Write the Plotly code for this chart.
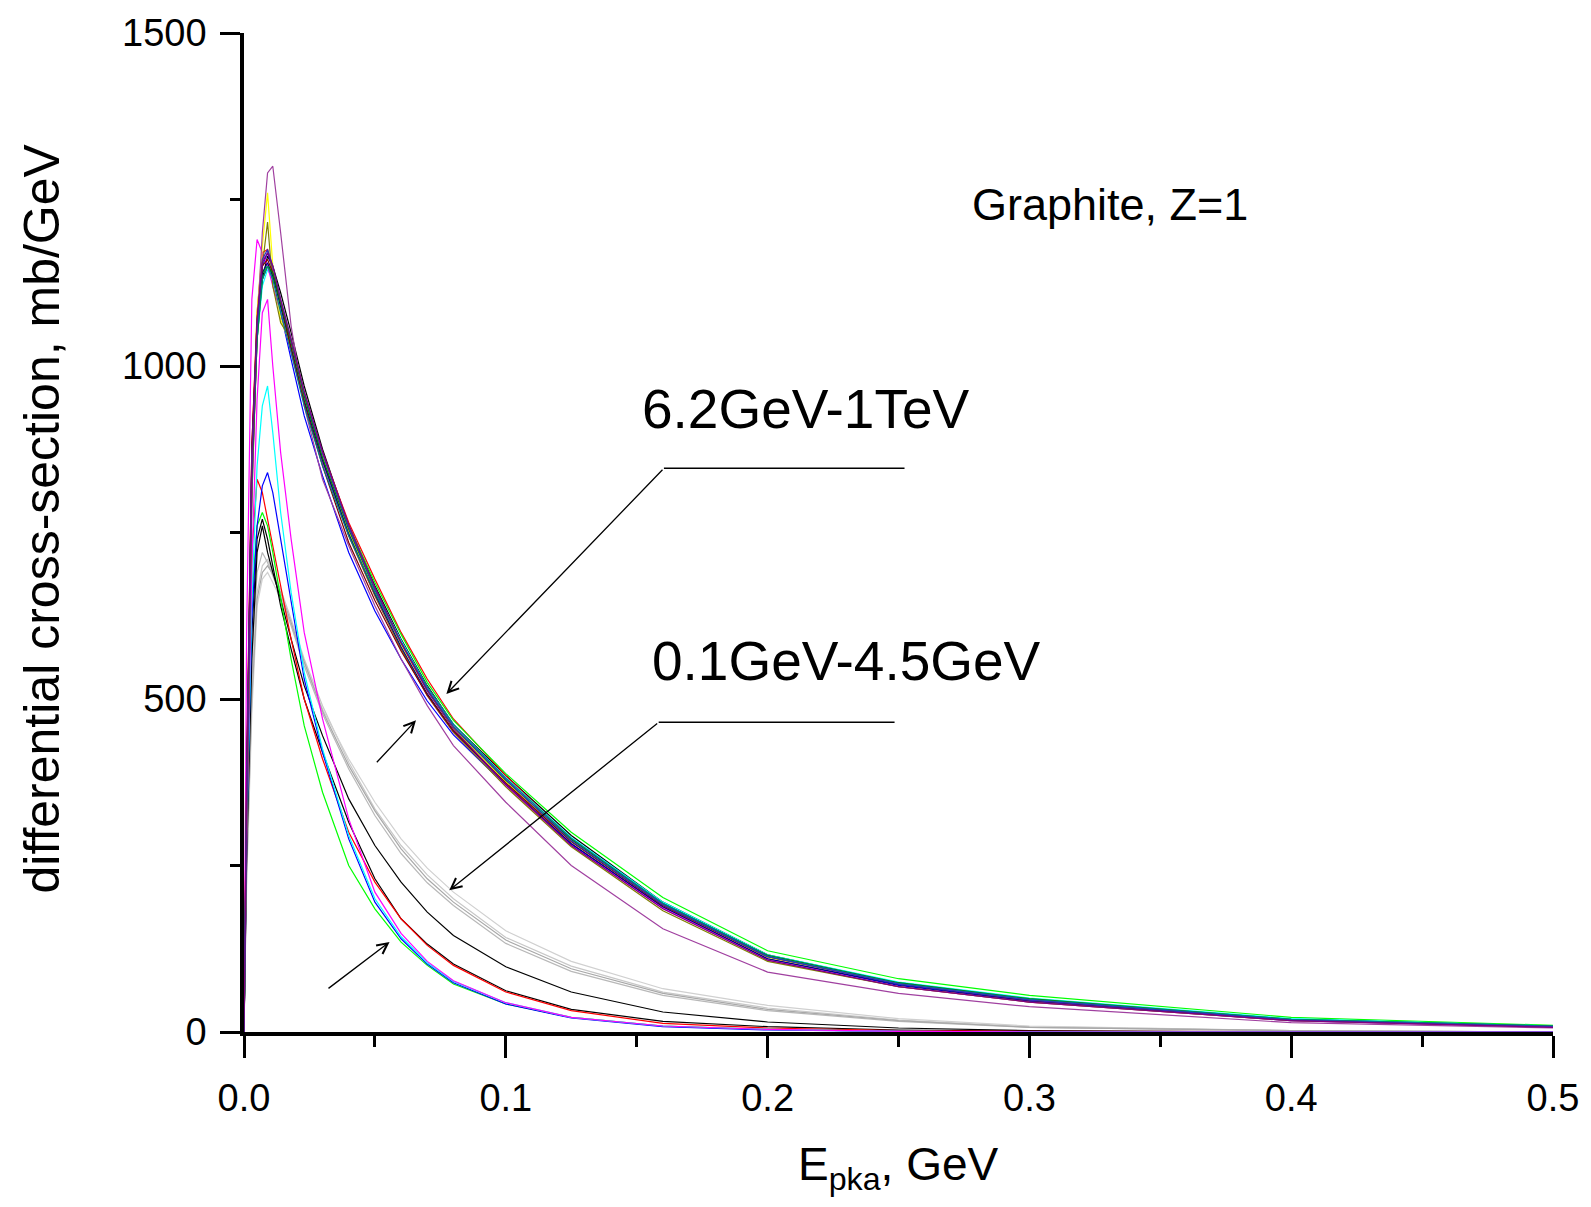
import plotly.graph_objects as go

# ---------------- data ----------------
E_pka = [0.0, 0.001, 0.003, 0.005, 0.007, 0.009, 0.011, 0.014, 0.018, 0.023, 0.03, 0.04,
         0.05, 0.06, 0.07, 0.08, 0.1, 0.125, 0.16, 0.2, 0.25, 0.3, 0.4, 0.5]

# high-energy group 6.2 GeV - 1 TeV
hi_black   = [0, 300, 820, 1040, 1130, 1165, 1150, 1110, 1050, 970, 875, 760, 670, 590, 520, 462, 385, 295, 195, 116, 74, 49, 19, 9]
hi_red     = [0, 380, 880, 1080, 1170, 1175, 1145, 1095, 1035, 955, 870, 765, 680, 600, 530, 470, 385, 290, 192, 113, 72, 48, 18, 8]
hi_green   = [0, 320, 840, 1060, 1140, 1150, 1135, 1085, 1025, 950, 865, 760, 675, 597, 525, 468, 388, 300, 202, 122, 80, 55, 22, 10]
hi_blue    = [0, 360, 860, 1070, 1150, 1170, 1145, 1080, 1010, 925, 835, 720, 632, 560, 497, 446, 370, 282, 188, 110, 70, 46, 17, 8]
hi_cyan    = [0, 340, 860, 1040, 1120, 1145, 1130, 1085, 1030, 950, 860, 752, 665, 588, 518, 462, 382, 292, 195, 116, 75, 51, 20, 9]
hi_magenta = [0, 600, 1100, 1190, 1170, 1150, 1120, 1080, 1020, 945, 855, 745, 655, 575, 505, 450, 370, 280, 186, 108, 68, 45, 17, 7]
hi_yellow  = [0, 330, 850, 1080, 1180, 1260, 1150, 1070, 1030, 955, 865, 752, 662, 582, 512, 456, 376, 286, 190, 112, 72, 48, 18, 8]
hi_olive   = [0, 300, 800, 1050, 1150, 1216, 1120, 1065, 1040, 960, 860, 745, 655, 575, 505, 450, 368, 278, 182, 106, 68, 45, 17, 8]
hi_navy    = [0, 350, 870, 1060, 1140, 1155, 1135, 1090, 1028, 948, 858, 748, 658, 578, 508, 452, 372, 283, 188, 110, 71, 47, 18, 8]
hi_purple  = [0, 280, 800, 1060, 1200, 1290, 1300, 1200, 1060, 940, 830, 730, 640, 560, 490, 430, 345, 250, 155, 90, 58, 38, 14, 6]
hi_wine    = [0, 400, 880, 1070, 1150, 1160, 1140, 1095, 1025, 945, 850, 735, 648, 572, 506, 452, 374, 286, 190, 113, 73, 48, 18, 8]
hi_dkgreen = [0, 330, 830, 1040, 1130, 1150, 1140, 1095, 1035, 955, 862, 755, 664, 584, 514, 458, 378, 289, 193, 115, 74, 50, 19, 9]
hi_teal    = [0, 370, 860, 1050, 1130, 1150, 1130, 1080, 1020, 940, 850, 745, 660, 585, 518, 462, 381, 291, 193, 114, 73, 49, 19, 9]
hi_royal   = [0, 330, 850, 1060, 1160, 1175, 1150, 1100, 1040, 960, 868, 758, 665, 585, 515, 459, 379, 287, 191, 113, 72, 48, 18, 8]
hi_violet  = [0, 350, 860, 1070, 1155, 1170, 1150, 1100, 1040, 962, 872, 762, 668, 585, 512, 455, 372, 280, 185, 108, 68, 45, 17, 7]

# low-energy group 0.1 GeV - 4.5 GeV
lo_gray1   = [0, 250, 520, 660, 700, 710, 690, 665, 620, 560, 490, 405, 335, 280, 236, 200, 142, 99, 60, 36, 18, 8, 2, 0]
lo_gray2   = [0, 220, 480, 640, 680, 690, 675, 650, 612, 555, 485, 410, 345, 290, 246, 210, 152, 106, 65, 40, 20, 9, 2, 0]
lo_gray3   = [0, 280, 560, 690, 720, 705, 685, 655, 610, 550, 478, 395, 325, 268, 224, 190, 133, 91, 55, 32, 16, 7, 2, 0]
lo_gray4   = [0, 240, 500, 650, 690, 700, 688, 660, 615, 556, 482, 400, 332, 275, 230, 195, 138, 95, 58, 34, 17, 7, 2, 0]
lo_black1  = [0, 300, 600, 740, 770, 740, 700, 640, 575, 500, 420, 315, 230, 170, 132, 102, 62, 34, 16, 8, 3, 1, 0, 0]
lo_black2  = [0, 260, 560, 720, 760, 720, 690, 650, 590, 520, 445, 350, 280, 225, 180, 145, 98, 60, 30, 15, 6, 2, 0, 0]
lo_red     = [0, 400, 720, 830, 810, 770, 730, 670, 590, 500, 410, 300, 225, 170, 130, 100, 60, 32, 13, 6, 2, 1, 0, 0]
lo_green   = [0, 350, 650, 760, 780, 760, 720, 650, 560, 460, 360, 250, 185, 135, 100, 72, 42, 22, 9, 4, 1, 0, 0, 0]
lo_blue    = [0, 300, 620, 760, 820, 840, 810, 740, 640, 530, 420, 290, 195, 140, 102, 74, 42, 21, 8, 3, 1, 0, 0, 0]
lo_cyan    = [0, 280, 650, 850, 940, 970, 900, 780, 660, 540, 425, 295, 200, 143, 104, 76, 44, 22, 9, 4, 1, 0, 0, 0]
lo_magenta = [0, 300, 700, 950, 1080, 1100, 1000, 870, 740, 600, 470, 320, 210, 148, 106, 77, 44, 22, 9, 4, 1, 0, 0, 0]

series = [
    (lo_gray1, "#C8C8C8"), (lo_gray2, "#D0D0D0"), (lo_gray3, "#B8B8B8"), (lo_gray4, "#A8A8A8"),
    (lo_black1, "#000000"), (lo_black2, "#000000"), (lo_red, "#FF0000"), (lo_green, "#00FF00"),
    (lo_blue, "#0000FF"), (lo_cyan, "#00FFFF"), (lo_magenta, "#FF00FF"),
    (hi_black, "#000000"), (hi_red, "#FF0000"), (hi_green, "#00FF00"), (hi_blue, "#0000FF"),
    (hi_cyan, "#00FFFF"), (hi_magenta, "#FF00FF"), (hi_yellow, "#FFFF00"), (hi_olive, "#808000"),
    (hi_navy, "#000080"), (hi_purple, "#A040A0"), (hi_wine, "#800000"), (hi_dkgreen, "#008000"),
    (hi_teal, "#008080"), (hi_royal, "#3030C0"), (hi_violet, "#800080"),
]

x_ticks = [0.0, 0.1, 0.2, 0.3, 0.4, 0.5]
y_ticks = [0, 500, 1000, 1500]

fig = go.Figure()
for ys, col in series:
    fig.add_trace(go.Scatter(x=E_pka, y=ys, mode="lines",
                             line=dict(color=col, width=1.2), showlegend=False,
                             hoverinfo="skip"))

FONT = "Liberation Sans, Arial, sans-serif"

fig.update_layout(
    width=1591, height=1207,
    margin=dict(l=244, r=34, t=30, b=175),
    paper_bgcolor="white", plot_bgcolor="white",
    font=dict(family=FONT, color="black"),
    showlegend=False,
)
fig.update_xaxes(
    range=[0, 0.5], tickvals=x_ticks, ticktext=[f"{v:.1f}" for v in x_ticks],
    showgrid=False, zeroline=False, showline=True, linewidth=3.5, linecolor="black",
    ticks="outside", ticklen=22, tickwidth=3, tickcolor="black",
    tickfont=dict(size=38, family=FONT), ticklabelstandoff=8,
    minor=dict(ticks="outside", ticklen=11, tickwidth=3, tickcolor="black", dtick=0.05, showgrid=False),
)
fig.update_yaxes(
    range=[0, 1500], tickvals=y_ticks,
    showgrid=False, zeroline=False, showline=True, linewidth=3.5, linecolor="black",
    ticks="outside", ticklen=20, tickwidth=3, tickcolor="black",
    tickfont=dict(size=38, family=FONT), ticklabelstandoff=6,
    minor=dict(ticks="outside", ticklen=10, tickwidth=3, tickcolor="black", dtick=250, showgrid=False),
)

# axis titles
fig.add_annotation(xref="paper", yref="paper", x=0.5, y=0, yshift=-135, xshift=0,
                   text="E<sub>pka</sub>, GeV", showarrow=False,
                   font=dict(size=46, family=FONT), yanchor="middle")
fig.add_annotation(xref="paper", yref="paper", x=0, y=0.5, xshift=-203, yshift=14,
                   text="differential cross-section, mb/GeV", showarrow=False, textangle=-90,
                   font=dict(size=50, family=FONT), xanchor="center", yanchor="middle")

# labels
fig.add_annotation(xref="paper", yref="paper", x=(1113 - 244) / 1313, y=(1032 - 204) / 1002,
                   yshift=29, text="Graphite, Z=1", showarrow=False, font=dict(size=45, family=FONT))
fig.add_annotation(xref="paper", yref="paper", x=(807 - 244) / 1313, y=(1032 - 409) / 1002,
                   yshift=2, text="6.2GeV-1TeV", showarrow=False, font=dict(size=55, family=FONT))
fig.add_annotation(xref="paper", yref="paper", x=(848 - 244) / 1313, y=(1032 - 663) / 1002,
                   yshift=3, text="0.1GeV-4.5GeV", showarrow=False, font=dict(size=55, family=FONT))

# leader lines and arrows
fig.add_shape(type="line", x0=0.2523, y0=846.5, x1=0.1604, y1=846.5, line=dict(color="black", width=1.5))
fig.add_shape(type="line", x0=0.2485, y0=465, x1=0.1584, y1=465, line=dict(color="black", width=1.5))
arrows = [
    ((0.0773, 507.6), (0.1604, 846.5)),
    ((0.0784, 212.8), (0.1584, 465)),
    ((0.0657, 468), (0.0502, 402.7)),
    ((0.0556, 135.3), (0.0317, 63.8)),
]
for (hx, hy), (tx, ty) in arrows:
    fig.add_annotation(x=hx, y=hy, ax=tx, ay=ty, xref="x", yref="y", axref="x", ayref="y",
                       text="", showarrow=True, arrowhead=5, arrowsize=1.6, arrowwidth=1.3,
                       arrowcolor="black")

fig.write_html("out.html")
